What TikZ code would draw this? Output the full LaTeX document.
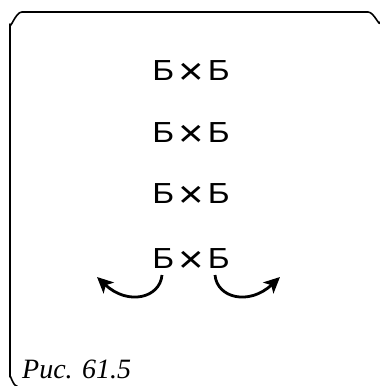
\documentclass[tikz,border=0pt]{standalone}
\usepackage{fontspec}
\setmainfont{Liberation Serif}
\newfontfamily\crossfont{Liberation Sans}
\usetikzlibrary{arrows.meta}
\tikzset{
  frame/.style={line width=1.6pt, line cap=round, line join=round},
  bxb/.style={font=\crossfont\fontsize{29}{29}\selectfont, inner sep=0pt, anchor=base, xscale=1.15},
  arr/.style={line width=2.8pt, -{Stealth[length=16pt,width=15pt,inset=4pt]}},
  capt/.style={font=\fontsize{28}{28}\selectfont\itshape, inner sep=0pt, anchor=base west}
}
\newcommand{\bxbtext}{Б\hspace{3.5pt}{\fontsize{38}{38}\selectfont\raisebox{-4pt}{×}}\hspace{3.5pt}Б}
\begin{document}
\begin{tikzpicture}[x=1pt,y=-1pt]
\useasboundingbox (0,0) rectangle (380,386);
\draw[frame] (17,386) to[out=180,in=90] (10,377) -- (10,24)
  to[out=-90,in=180] (22,12) -- (368,12) to[out=0,in=-90] (380,22);
\node[bxb] (r1) at (191,80) {\bxbtext};
\node[bxb] (r2) at (191,142) {\bxbtext};
\node[bxb] (r3) at (191,203) {\bxbtext};
\node[bxb] (r4) at (191,268) {\bxbtext};
\coordinate (ls) at (162,275);
\coordinate (lt) at (97,277);
\coordinate (rs) at (215,275);
\coordinate (rt) at (280,277);
\draw[arr] (ls) .. controls (160,298) and (128,306) .. (lt);
\draw[arr] (rs) .. controls (217,298) and (249,306) .. (rt);
\node[capt] (cap) at (22,378) {Рис. 61.5};
\end{tikzpicture}
\end{document}
